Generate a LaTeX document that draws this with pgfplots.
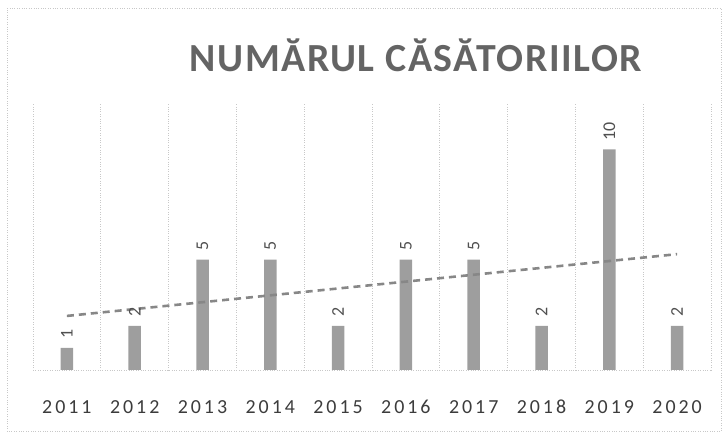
\documentclass[border=0pt]{standalone}
\usepackage{fontspec}
\setmainfont{Carlito}
\newfontfamily\titlefont[LetterSpace=4]{Carlito}
\newfontfamily\tickfont[LetterSpace=15]{Carlito}
\usepackage{pgfplots}
\pgfplotsset{compat=1.18}
\definecolor{bargray}{RGB}{158,158,158}
\definecolor{trendgray}{RGB}{135,135,135}
\definecolor{gridgray}{RGB}{200,200,200}
\definecolor{titlegray}{RGB}{100,100,100}
\definecolor{tickgray}{RGB}{60,60,60}
\definecolor{labelgray}{RGB}{80,80,80}
\begin{document}
\begin{tikzpicture}
\begin{axis}[
  scale only axis, width=678bp, height=267bp,
  xmin=-0.5, xmax=9.5, ymin=0, ymax=12.1,
  /pgf/number format/assume math mode=true,
  axis line style={draw=none},
  major tick length=0, minor tick length=0,
  ytick=\empty,
  xtick={0,...,9},
  xticklabels={2011,2012,2013,2014,2015,2016,2017,2018,2019,2020},
  xticklabel style={font=\tickfont\fontsize{20}{20}\selectfont, text=tickgray,
    anchor=north, inner sep=0pt, yshift=-30bp},
  minor xtick={-0.5,0.5,...,9.5},
  xminorgrids,
  minor grid style={gridgray, dotted, line width=0.8bp},
  extra y ticks={0}, extra y tick labels={},
  extra y tick style={grid=major, major grid style={gridgray, dotted, line width=0.8bp}},
  clip=false,
]
% numbers of marriages per year
\addplot[ybar, bar width=12.5bp, fill=bargray, draw=none,
  nodes near coords,
  every node near coord/.append style={rotate=90, anchor=west, inner xsep=9bp,
    inner ysep=0pt, font=\fontsize{18}{18}\selectfont, text=labelgray}]
  coordinates {(0,1) (1,2) (2,5) (3,5) (4,2) (5,5) (6,5) (7,2) (8,10) (9,2)};
% linear trend
\addplot[trendgray, line width=2.6bp, dash pattern=on 7bp off 5bp, sharp plot]
  coordinates {(0,2.45) (9,5.25)};
\end{axis}
\pgfresetboundingbox
\begin{scope}[shift={(current axis.south west)}, x=1bp, y=1bp]
\useasboundingbox (-33,-67) rectangle (692,370);
% chart area border
\draw[gridgray, dotted] (-26,-61) rectangle (688,362);
% title
\node[anchor=base, text=titlegray, font=\titlefont\bfseries\fontsize{40}{42}\selectfont]
  at (383,298) {NUMĂRUL CĂSĂTORIILOR};
\end{scope}
\end{tikzpicture}
\end{document}
